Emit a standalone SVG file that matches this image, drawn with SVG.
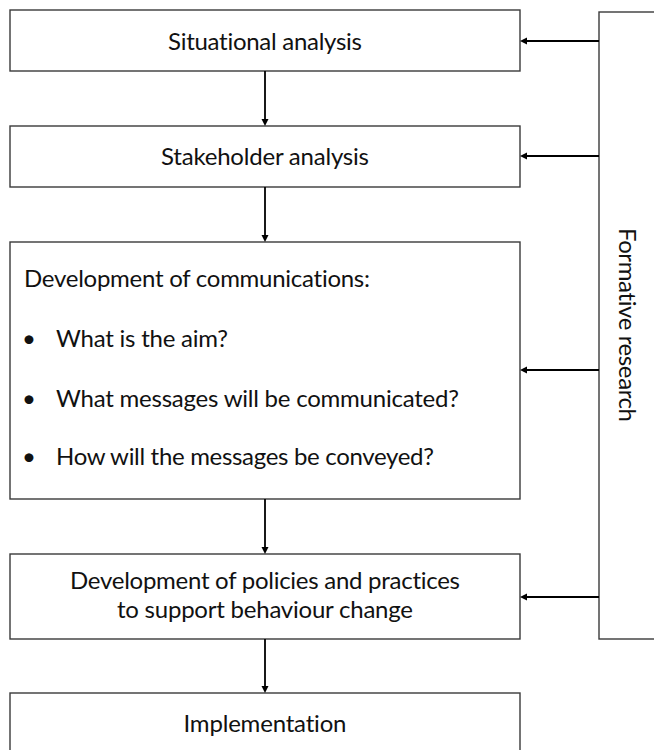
<svg xmlns="http://www.w3.org/2000/svg" width="654" height="750" viewBox="0 0 654 750">
  <defs>
    <style>
      .box { fill: #ffffff; stroke: #3a3a3a; stroke-width: 1.4; }
      .lbl { font-family: Lato, "Open Sans", "Liberation Sans", sans-serif; font-size: 24px; fill: #111111; font-variant-ligatures: none; }
      .mid { text-anchor: middle; }
      .flow { fill: none; stroke: #000000; stroke-width: 1.8; marker-end: url(#head); }
    </style>
    <marker id="head" markerUnits="userSpaceOnUse" markerWidth="8" markerHeight="8" refX="1" refY="3.5" orient="auto">
      <path d="M0,0 L7,3.5 L0,7 z" fill="#000000"/>
    </marker>
  </defs>

  <rect width="654" height="750" fill="#ffffff"/>

  <!-- side bar spanning the planning stages -->
  <g id="formative-research">
    <rect class="box" x="599" y="12" width="60" height="627"/>
    <text class="lbl mid" transform="translate(619,325) rotate(90)" textLength="194">Formative research</text>
  </g>

  <g id="situational-analysis">
    <rect class="box" x="10" y="10" width="510" height="61"/>
    <text class="lbl mid" x="265" y="50" textLength="194">Situational analysis</text>
  </g>

  <g id="stakeholder-analysis">
    <rect class="box" x="10" y="126" width="510" height="61"/>
    <text class="lbl mid" x="265" y="165" textLength="208">Stakeholder analysis</text>
  </g>

  <g id="development-of-communications">
    <rect class="box" x="10" y="242" width="510" height="257"/>
    <text class="lbl" x="24" y="287" textLength="346">Development of communications:</text>
    <text class="lbl mid" x="29" y="347">•</text>
    <text class="lbl" x="56" y="347" textLength="172">What is the aim?</text>
    <text class="lbl mid" x="29" y="407">•</text>
    <text class="lbl" x="56" y="407" textLength="403">What messages will be communicated?</text>
    <text class="lbl mid" x="29" y="465">•</text>
    <text class="lbl" x="56" y="465" textLength="378">How will the messages be conveyed?</text>
  </g>

  <g id="policies-and-practices">
    <rect class="box" x="10" y="554" width="510" height="85"/>
    <text class="lbl mid" x="265" y="589" textLength="390">Development of policies and practices</text>
    <text class="lbl mid" x="265" y="618" textLength="296">to support behaviour change</text>
  </g>

  <g id="implementation">
    <rect class="box" x="10" y="693" width="510" height="70"/>
    <text class="lbl mid" x="265" y="732" textLength="163">Implementation</text>
  </g>

  <g id="connectors">
    <!-- main sequence -->
    <line class="flow" x1="265" y1="71" x2="265" y2="120"/>
    <line class="flow" x1="265" y1="187" x2="265" y2="236"/>
    <line class="flow" x1="265" y1="499" x2="265" y2="548"/>
    <line class="flow" x1="265" y1="639" x2="265" y2="687"/>
    <!-- feeds from formative research -->
    <line class="flow" x1="599" y1="41" x2="526" y2="41"/>
    <line class="flow" x1="599" y1="156" x2="526" y2="156"/>
    <line class="flow" x1="599" y1="370" x2="526" y2="370"/>
    <line class="flow" x1="599" y1="597" x2="526" y2="597"/>
  </g>
</svg>
